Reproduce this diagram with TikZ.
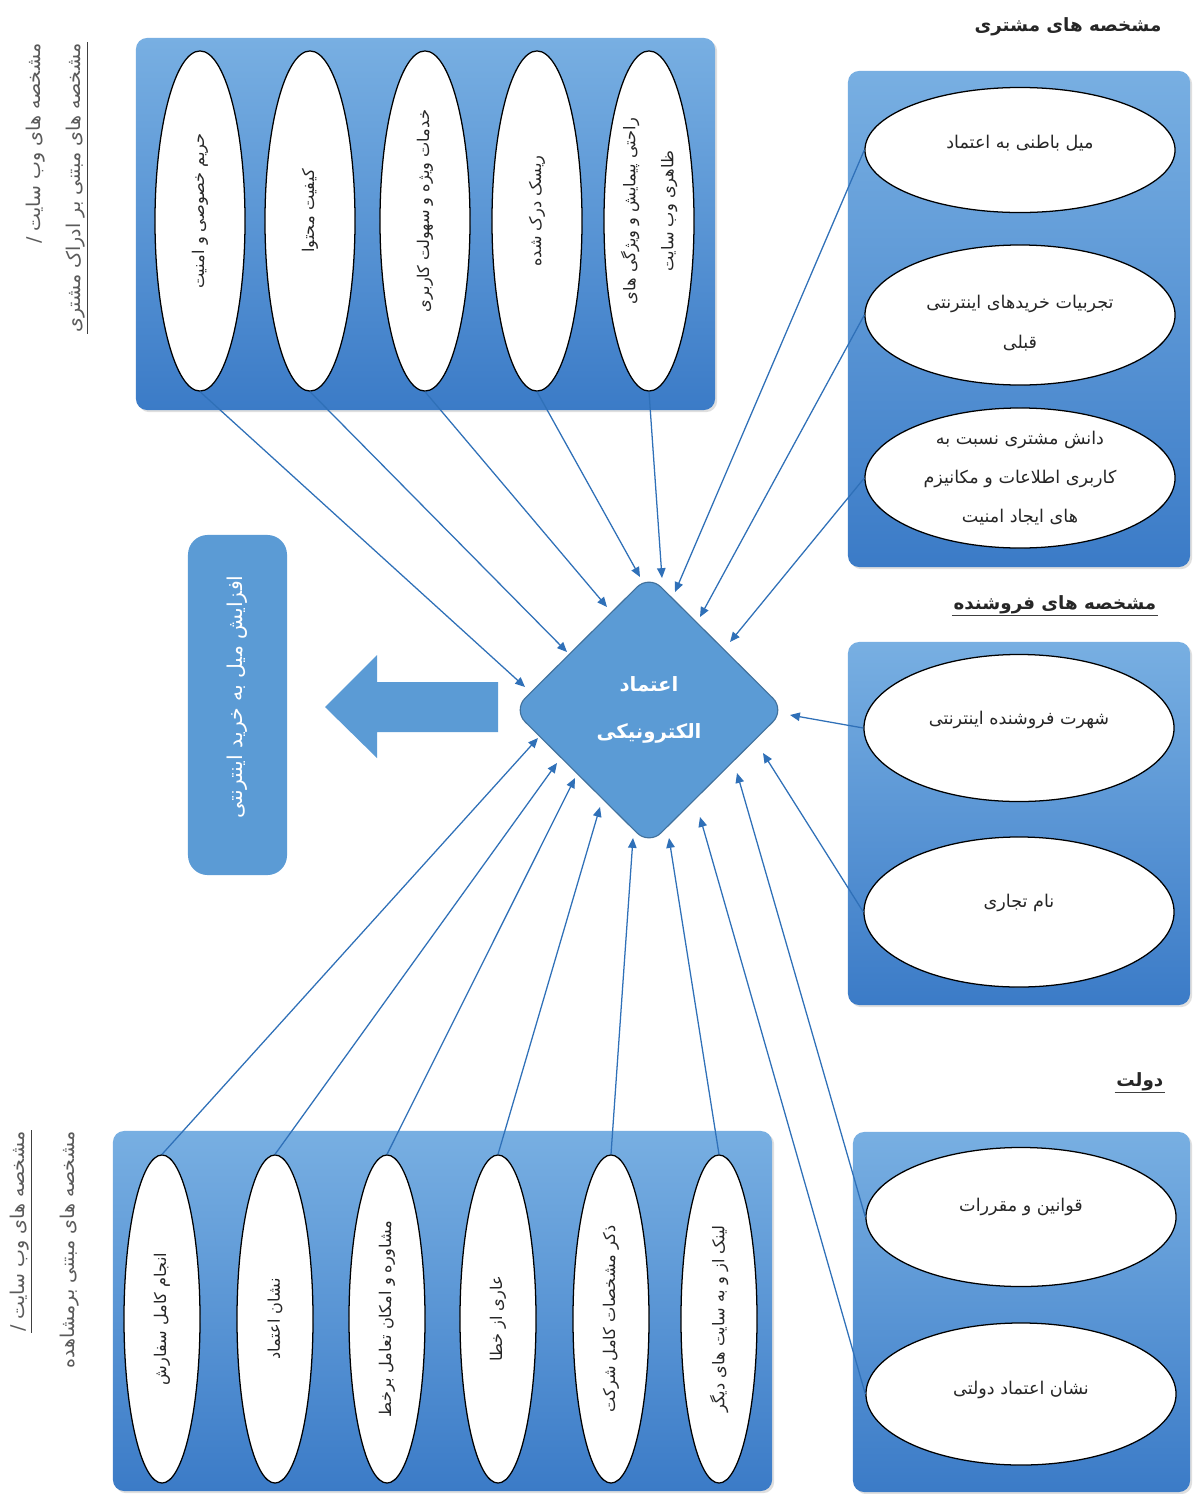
\documentclass[tikz,border=0pt]{standalone}
\usepackage{fontspec}
\usetikzlibrary{shapes.geometric,arrows.meta,calc,shadows}
\TeXXeTstate=1
\newfontfamily\farsi[Script=Arabic]{DejaVu Sans}
\newcommand{\fat}[1]{{\farsi\beginR #1\endR}}
\definecolor{panelA}{HTML}{78AFE2}
\definecolor{panelB}{HTML}{3B7BC7}
\definecolor{shapeblue}{HTML}{5B9BD5}
\definecolor{shapeedge}{HTML}{41719C}
\definecolor{linkblue}{HTML}{2F70B8}
\definecolor{labelgray}{HTML}{5A5A5A}
\begin{document}
\begin{tikzpicture}[x=0.025cm,y=-0.025cm,
  panel/.style={rectangle, rounded corners=8pt, top color=panelA, bottom color=panelB, inner sep=0pt,
    drop shadow={opacity=0.25,shadow xshift=1.5pt,shadow yshift=-1.5pt}},
  ovalbox/.style={ellipse, draw=black, line width=0.9pt, fill=white, inner sep=0pt},
  vtxt/.style={rotate=90, font=\fontsize{11.5}{27}\selectfont, align=center, text=black!85},
  htxt/.style={font=\fontsize{12.5}{28}\selectfont, align=center, text=black!85},
  link/.style={draw=linkblue, line width=0.9pt, -{Triangle[length=7pt,width=6pt]}},
  title/.style={font=\fontsize{13}{16}\selectfont\bfseries, text=black!85, inner sep=1pt},
  sidelabel/.style={rotate=90, font=\fontsize{13.5}{15}\selectfont, text=labelgray, inner sep=1pt},
  uline/.style={draw=black!75, line width=0.8pt}
]
\useasboundingbox (0,0) rectangle (1192,1494);
\fill[white] (0,0) rectangle (1192,1494);

% panels
\node[panel, minimum width=14.475cm, minimum height=9.3cm] (pT) at (425.5,224) {};
\node[panel, minimum width=8.55cm, minimum height=12.4cm] (pC) at (1019,319) {};
\node[panel, minimum width=8.55cm, minimum height=9.075cm] (pS) at (1019,823.5) {};
\node[panel, minimum width=8.425cm, minimum height=9.0cm] (pG) at (1021.5,1312) {};
\node[panel, minimum width=16.475cm, minimum height=9.0cm] (pB) at (442.5,1311) {};

% titles
\node[title, anchor=east] (tC) at (1163,27) {\fat{مشخصه های مشتری}};
\node[title, anchor=east] (tS) at (1158,605) {\fat{مشخصه های فروشنده}};
\draw[uline] (tS.south west) -- (tS.south east);
\node[title, anchor=east] (tG) at (1165,1082) {\fat{دولت}};
\draw[uline] (tG.south west) -- (tG.south east);

% side labels
\node[sidelabel, anchor=east] (lt1) at (36,42) {\fat{مشخصه های وب سایت /}};
\node[sidelabel, anchor=east] (lt2) at (76,42) {\fat{مشخصه های مبتنی بر ادراک مشتری}};
\draw[uline] (lt2.south east) -- (lt2.south west);
\node[sidelabel, anchor=east] (lb1) at (20,1130) {\fat{مشخصه های وب سایت /}};
\node[sidelabel, anchor=east] (lb2) at (70,1130) {\fat{مشخصه های مبتنی برمشاهده}};
\draw[uline] (lb1.south east) -- (lb1.south west);

% top ovals
\foreach \i/\x in {1/200,2/310,3/425,4/537,5/649}{
  \node[ovalbox, minimum width=2.25cm, minimum height=8.5cm] (t\i) at (\x,221) {};
}
\node[vtxt] at ($(t1)+(0,-10)$) {\fat{حریم خصوصی و امنیت}};
\node[vtxt] at ($(t2)+(0,-10)$) {\fat{کیفیت محتوا}};
\node[vtxt] at ($(t3)+(0,-10)$) {\fat{خدمات ویژه و سهولت کاربری}};
\node[vtxt] at ($(t4)+(0,-10)$) {\fat{ریسک درک شده}};
\node[vtxt] at ($(t5)+(0,-10)$) {\fat{راحتی پیمایش و ویژگی های}\\\fat{ظاهری وب سایت}};

% bottom ovals
\foreach \i/\x in {1/162,2/275,3/387,4/498,5/611,6/719}{
  \node[ovalbox, minimum width=1.9cm, minimum height=8.2cm] (b\i) at (\x,1319) {};
}
\node[vtxt] at (b1) {\fat{انجام کامل سفارش}};
\node[vtxt] at (b2) {\fat{نشان اعتماد}};
\node[vtxt] at (b3) {\fat{مشاوره و امکان تعامل برخط}};
\node[vtxt] at (b4) {\fat{عاری از خطا}};
\node[vtxt] at (b5) {\fat{ذکر  مشخصات کامل شرکت}};
\node[vtxt] at (b6) {\fat{لینک از و به سایت های دیگر}};

% right ovals
\node[ovalbox, minimum width=7.75cm, minimum height=3.125cm] (c1) at (1020,150) {};
\node[ovalbox, minimum width=7.75cm, minimum height=3.5cm] (c2) at (1020,315) {};
\node[ovalbox, minimum width=7.75cm, minimum height=3.5cm] (c3) at (1020,478) {};
\node[ovalbox, minimum width=7.75cm, minimum height=3.675cm] (s1) at (1019,728) {};
\node[ovalbox, minimum width=7.75cm, minimum height=3.75cm] (s2) at (1019,912) {};
\node[ovalbox, minimum width=7.75cm, minimum height=3.475cm] (g1) at (1021,1217) {};
\node[ovalbox, minimum width=7.75cm, minimum height=3.55cm] (g2) at (1021,1394) {};
\node[htxt] at ($(c1)+(0,-7)$) {\fat{میل باطنی به اعتماد}};
\node[htxt] at ($(c2)+(0,8)$) {\fat{تجربیات خریدهای اینترنتی}\\\fat{قبلی}};
\node[htxt] at (c3) {\fat{دانش مشتری نسبت به}\\\fat{کاربری اطلاعات و مکانیزم}\\\fat{های ایجاد امنیت}};
\node[htxt] at ($(s1)+(0,-8)$) {\fat{شهرت فروشنده اینترنتی}};
\node[htxt] at ($(s2)+(0,-9)$) {\fat{نام تجاری}};
\node[htxt] at ($(g1)+(0,-10)$) {\fat{قوانین و مقررات}};
\node[htxt] at ($(g2)+(0,-4)$) {\fat{نشان اعتماد دولتی}};

% central diamond
\node[diamond, aspect=1, fill=shapeblue, draw=shapeedge, line width=0.8pt, rounded corners=12pt,
  minimum width=6.8cm, minimum height=6.75cm, inner sep=0pt] (dm) at (649,710) {};
\node[font=\fontsize{14}{34}\selectfont\bfseries, text=white, align=center] at (dm) {\fat{اعتماد}\\\fat{الکترونیکی}};

% left box and block arrow
\node[rectangle, rounded corners=14pt, fill=shapeblue, minimum width=2.475cm, minimum height=8.5cm, inner sep=0pt] (lbox) at (237.5,705) {};
\node[rotate=90, text=white, font=\fontsize{14.5}{16}\selectfont] at ($(lbox)+(0,-8)$) {\fat{افزایش میل به خرید اینترنتی}};
\fill[shapeblue] (498,682) -- (377,682) -- (377,655) -- (325,707) -- (377,758) -- (377,732) -- (498,732) -- cycle;

% arrow end points on the diamond
\coordinate (eT1) at ($(dm)+(-124,-23)$);
\coordinate (eT2) at ($(dm)+(-82,-58)$);
\coordinate (eT3) at ($(dm)+(-42,-103)$);
\coordinate (eT4) at ($(dm)+(-9,-133)$);
\coordinate (eT5) at ($(dm)+(13,-132)$);
\coordinate (eC1) at ($(dm)+(26,-118)$);
\coordinate (eC2) at ($(dm)+(51,-93)$);
\coordinate (eC3) at ($(dm)+(81,-68)$);
\coordinate (eS1) at ($(dm)+(141,5)$);
\coordinate (eS2) at ($(dm)+(114,43)$);
\coordinate (eG1) at ($(dm)+(88,63)$);
\coordinate (eG2) at ($(dm)+(51,107)$);
\coordinate (eB1) at ($(dm)+(-111,28)$);
\coordinate (eB2) at ($(dm)+(-92,53)$);
\coordinate (eB3) at ($(dm)+(-74,68)$);
\coordinate (eB4) at ($(dm)+(-49,97)$);
\coordinate (eB5) at ($(dm)+(-16,128)$);
\coordinate (eB6) at ($(dm)+(20,128)$);

% connectors
\foreach \i in {1,...,5}{ \draw[link] (t\i.south) -- (eT\i); }
\foreach \i in {1,...,3}{ \draw[link] (c\i.west) -- (eC\i); }
\foreach \i in {1,2}{ \draw[link] (s\i.west) -- (eS\i); }
\foreach \i in {1,2}{ \draw[link] (g\i.west) -- (eG\i); }
\foreach \i in {1,...,6}{ \draw[link] (b\i.north) -- (eB\i); }
\end{tikzpicture}
\end{document}
